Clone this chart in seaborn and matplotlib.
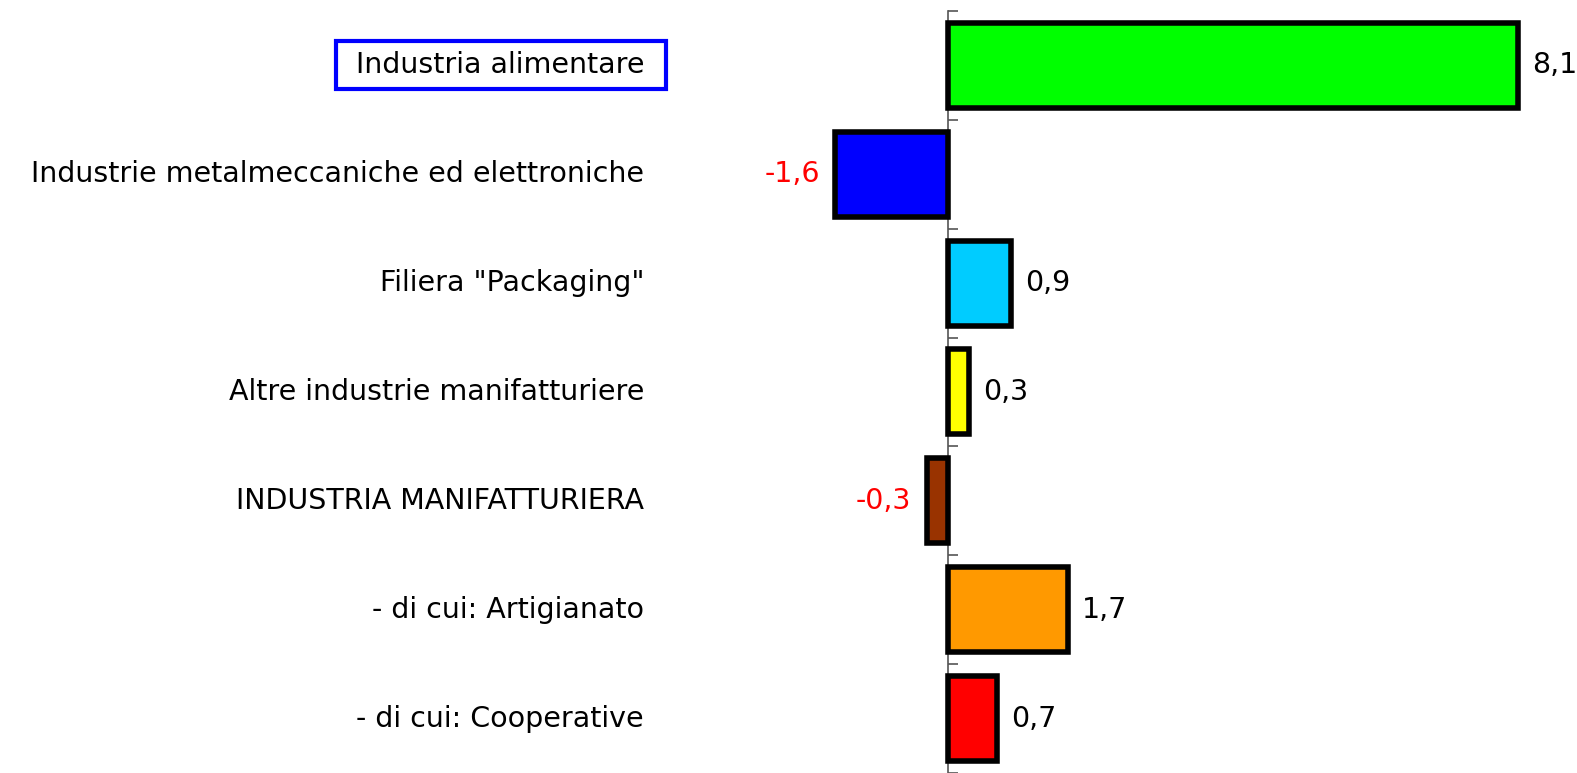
import matplotlib
matplotlib.use("Agg")
import matplotlib.pyplot as plt
from matplotlib.patches import Rectangle
import seaborn as sns
import pandas as pd

# data
categories = ["Industria alimentare",
              "Industrie metalmeccaniche ed elettroniche",
              'Filiera "Packaging"',
              "Altre industrie manifatturiere",
              "INDUSTRIA MANIFATTURIERA",
              "- di cui: Artigianato",
              "- di cui: Cooperative"]
values = [8.1, -1.6, 0.9, 0.3, -0.3, 1.7, 0.7]
bar_colors = ["#00FF00", "#0000FF", "#00CCFF", "#FFFF00", "#993300", "#FF9900", "#FF0000"]

df = pd.DataFrame({"cat": categories, "val": values})

sns.set_style("white")
plt.rcParams["font.family"] = ["DejaVu Sans"]

fig = plt.figure(figsize=(15.77, 7.73), dpi=100)
ax = fig.add_axes([0, 0, 1, 1])

sns.barplot(data=df, x="val", y="cat", hue="cat", palette=bar_colors, legend=False,
            orient="h", width=0.78, saturation=1, edgecolor="black", linewidth=4, ax=ax)

# zero at ~948 px, ~70.4 px per unit
ppu = 70.4
ax.set_xlim(-948 / ppu, (1577 - 948) / ppu)
ax.set_ylim(-0.6 + 773 / 109.5, -0.6)

for s in ["top", "right", "bottom"]:
    ax.spines[s].set_visible(False)
ax.spines["left"].set_position(("data", 0))
ax.spines["left"].set_color("#555555")
ax.spines["left"].set_linewidth(1.2)
ax.spines["left"].set_bounds(-0.5, 7)
ax.spines["left"].set_zorder(0.5)
ax.set_yticks([i - 0.5 for i in range(len(categories) + 1)])
ax.set_yticklabels([])
ax.tick_params(axis="y", direction="in", length=7, width=1.2, color="#555555", left=True)
ax.set_xticks([])
ax.set_xlabel("")
ax.set_ylabel("")
ax.patch.set_alpha(0)

fs = 20.5
label_x = (644 - 948) / ppu
label_texts = []
for i, name in enumerate(categories):
    t = ax.text(label_x, i, name, ha="right", va="center", fontsize=fs, color="black")
    label_texts.append(t)

for i, v in enumerate(values):
    txt = f"{v:.1f}".replace(".", ",")
    if v >= 0:
        ax.text(v + 0.2, i, txt, ha="left", va="center", fontsize=fs, color="black")
    else:
        ax.text(v - 0.22, i, txt, ha="right", va="center", fontsize=fs, color="red")

# blue frame around the first label
fig.canvas.draw()
bb = label_texts[0].get_window_extent()
cy = (bb.y0 + bb.y1) / 2
frame = Rectangle((bb.x0 - 20, cy - 24), bb.width + 42, 48, transform=None,
                  fill=False, edgecolor="#0000FF", linewidth=3)
fig.add_artist(frame)

fig.savefig("out.png", dpi=100)
